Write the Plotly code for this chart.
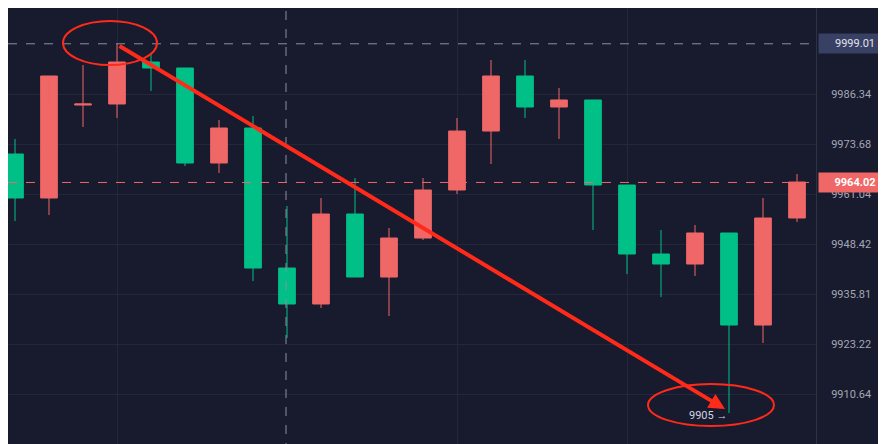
import plotly.graph_objects as go

def v(py):
    return round(9986.34 - (py - 86) * 0.25233, 2)

# pixel-read OHLC converted to prices
idx = list(range(24))
open_ = [v(p) for p in [146,190,97,96,54,60,155,120,260,296,206,269,230,182,123,68,99,92,177,246,256,225,317,210]]
close = [v(p) for p in [190,68,96,54,60,155,120,260,296,206,269,230,182,123,68,99,92,177,246,256,225,317,210,174]]
high  = [v(p) for p in [131,95,57,36,45,60,112,108,198,190,170,220,170,110,52,52,80,92,177,222,217,225,190,166]]
low   = [v(p) for p in [213,207,119,110,83,158,165,273,330,300,269,308,232,186,156,110,131,222,266,289,268,405,335,214]]
ticks = [9999.01, 9986.34, 9973.68, 9961.04, 9948.42, 9935.81, 9923.22, 9910.64]
last_price = 9964.02
low_label = "9905 →"

RED = "#f06767"; GREEN = "#00c087"; BG = "#181b2d"

fig = go.Figure(go.Candlestick(
    x=idx, open=open_, high=high, low=low, close=close,
    increasing=dict(line=dict(color=RED, width=1), fillcolor=RED),
    decreasing=dict(line=dict(color=GREEN, width=1), fillcolor=GREEN),
    whiskerwidth=0, hoverinfo="skip"))

ymin, ymax = v(444), v(0)
fig.update_layout(
    width=886, height=444, margin=dict(l=0, r=78, t=0, b=0, autoexpand=False),
    paper_bgcolor=BG, plot_bgcolor=BG, showlegend=False,
    xaxis=dict(range=[-7/34, 801/34], showgrid=True, gridcolor="#23273a",
               tickvals=[3, 13, 18], showticklabels=False, zeroline=False,
               rangeslider=dict(visible=False)),
    yaxis=dict(side="right", range=[ymin, ymax], tickvals=ticks[1:],
               ticktext=[f"{t:.2f}" for t in ticks[1:]], showgrid=True,
               gridcolor="#23273a", tickfont=dict(color="#a3a7b7", size=11,
               family="Roboto"), ticks="", ticklabelstandoff=12,
               showline=True, linecolor="#2e3246", zeroline=False),
)
fig.add_hline(y=ticks[0], line=dict(color="#8a8fa3", width=1, dash="dash"))
fig.add_hline(y=last_price, line=dict(color=RED, width=1, dash="dash"))
fig.add_vline(x=(278-7)/34, line=dict(color="#8a8fa3", width=1, dash="dash"))

fig.add_annotation(x=1, xref="paper", xanchor="left", xshift=2, y=ticks[0],
    text=f"{ticks[0]:.2f}", showarrow=False, bgcolor="#384063",
    font=dict(color="#e0e3ee", size=11, family="Roboto"), borderpad=3, width=66)
fig.add_annotation(x=1, xref="paper", xanchor="left", xshift=2, y=last_price,
    text=f"<b>{last_price:.2f}</b>", showarrow=False, bgcolor=RED,
    font=dict(color="white", size=11, family="Roboto"), borderpad=3, width=66)

def px2x(px): return (px - 7) / 34
for cx, cy, rx, ry in [(102, 35, 47, 22), (703, 397, 63, 21)]:
    fig.add_shape(type="circle", x0=px2x(cx-rx), x1=px2x(cx+rx), y0=v(cy+ry), y1=v(cy-ry),
                  line=dict(color="#ff2a1a", width=2))
fig.add_annotation(x=px2x(717), y=v(401), ax=px2x(110), ay=v(37), xref="x", yref="y",
    axref="x", ayref="y", text="", showarrow=True, arrowhead=2, arrowsize=0.8,
    arrowwidth=4, arrowcolor="#ff2a1a")
fig.add_annotation(x=px2x(700), y=v(407), text=low_label, showarrow=False,
    font=dict(color="#d0d4e2", size=11, family="Roboto"))
fig.add_shape(type="rect", xref="paper", yref="y", x0=1.085, x1=1.1, y0=v(298), y1=v(260),
              fillcolor="#3a3f58", line=dict(width=0))

fig.write_html("out.html")
